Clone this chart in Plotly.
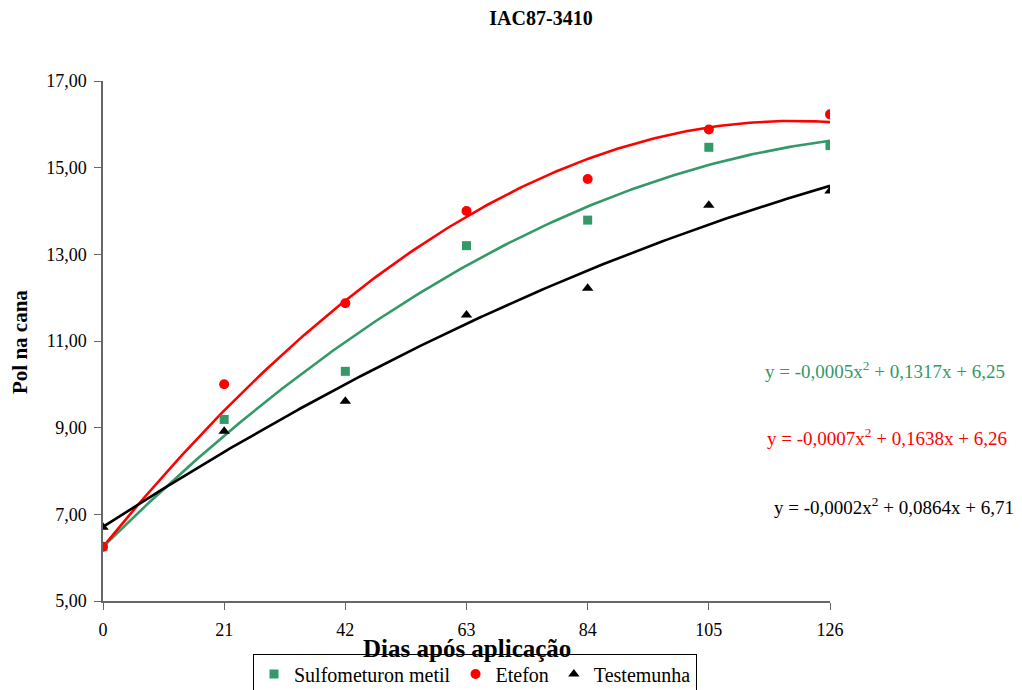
import numpy as np
import plotly.graph_objects as go

dias = [0, 21, 42, 63, 84, 105, 126]
sulfometuron = [6.25, 9.19, 10.30, 13.20, 13.79, 15.47, 15.51]
etefon = [6.25, 10.00, 11.87, 14.00, 14.74, 15.88, 16.23]
testemunha = [6.70, 8.92, 9.61, 11.60, 12.22, 14.13, 14.46]

series_names = ["Sulfometuron metil", "Etefon", "Testemunha"]
# quadratic trendline coefficients (a, b, c), as drawn in the picture
trend_sulfometuron = [-0.000455, 0.1317, 6.25]
trend_etefon = [-0.000685, 0.1641, 6.25]
trend_testemunha = [-0.00019, 0.0864, 6.71]
equations = [
    "y = -0,0005x<sup>2</sup> + 0,1317x + 6,25",
    "y = -0,0007x<sup>2</sup> + 0,1638x + 6,26",
    "y = -0,0002x<sup>2</sup> + 0,0864x + 6,71",
]
y_ticks = [5, 7, 9, 11, 13, 15, 17]
y_ticktext = ["5,00", "7,00", "9,00", "11,00", "13,00", "15,00", "17,00"]

colors = ["#339966", "#ff0000", "#000000"]
symbols = ["square", "circle", "triangle-up"]
sizes = [9, 10, 10]
data = [sulfometuron, etefon, testemunha]
trends = [trend_sulfometuron, trend_etefon, trend_testemunha]

FONT = "Liberation Serif, Times New Roman, serif"

fig = go.Figure()
xs = np.linspace(0, 126, 200)
for coef, c in zip(trends, colors):
    fig.add_trace(go.Scatter(x=xs, y=np.polyval(coef, xs), mode="lines",
                             line=dict(color=c, width=2.6), showlegend=False,
                             hoverinfo="skip"))
for name, vals, c, s, sz in zip(series_names, data, colors, symbols, sizes):
    fig.add_trace(go.Scatter(x=dias, y=vals, mode="markers", name=name,
                             marker=dict(color=c, symbol=s, size=sz)))

fig.update_layout(
    width=1022, height=690,
    margin=dict(l=103, r=192, t=81, b=89),
    paper_bgcolor="white", plot_bgcolor="white",
    font=dict(family=FONT, size=18, color="black"),
    title=dict(text="<b>IAC87-3410</b>", x=(541) / 1022, xanchor="center", xref="container",
               y=1 - 18 / 690, yanchor="middle", font=dict(size=20, family=FONT)),
    showlegend=True,
    legend=dict(orientation="h", x=475 / 1022, xanchor="center", xref="container",
                y=1 - 674 / 690, yanchor="middle", yref="container",
                bordercolor="black", borderwidth=1, bgcolor="rgba(255,255,255,0)",
                font=dict(size=20, family=FONT), itemwidth=30,
                tracegroupgap=0),
)
fig.update_xaxes(range=[0, 126], tickvals=dias, ticks="outside", ticklen=7,
                 showline=True, linecolor="#666666", linewidth=1.5,
                 showgrid=False, zeroline=False, tickcolor="#666666",
                 ticklabelstandoff=5,
                 tickfont=dict(size=18, family=FONT))
fig.update_yaxes(range=[5, 17], tickvals=y_ticks, ticktext=y_ticktext,
                 ticks="outside", ticklen=7, showline=True, linecolor="#666666",
                 linewidth=1.5, showgrid=False, zeroline=False, tickcolor="#666666",
                 ticklabelstandoff=4,
                 tickfont=dict(size=18, family=FONT))

fig.add_annotation(text="<b>Dias após aplicação</b>", xref="paper", yref="paper",
                   x=(467 - 103) / 727, y=-(648 - 601) / 520, showarrow=False,
                   font=dict(size=25, family=FONT), xanchor="center", yanchor="middle",
                   bgcolor="rgba(255,255,255,0)")
fig.add_annotation(text="<b>Pol na cana</b>", xref="paper", yref="paper",
                   x=-(103 - 20) / 727, y=(601 - 342) / 520, showarrow=False,
                   textangle=-90, font=dict(size=21, family=FONT),
                   xanchor="center", yanchor="middle")
eq_pos = [(1007, 370), (1009, 437), (1016, 506)]
for eq, c, (px, py) in zip(equations, colors, eq_pos):
    fig.add_annotation(text=eq, xref="paper", yref="paper",
                       x=(px - 103) / 727, y=(601 - py) / 520, showarrow=False,
                       xanchor="right", yanchor="middle",
                       font=dict(size=19, family=FONT, color=c))

fig.write_html("out.html")
